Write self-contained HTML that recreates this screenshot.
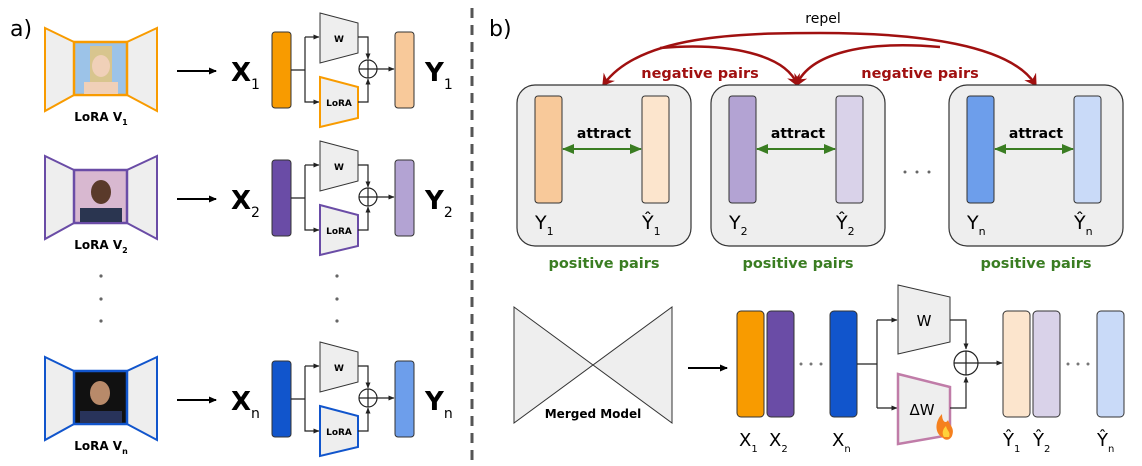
<!DOCTYPE html>
<html><head><meta charset="utf-8"><style>
html,body{margin:0;padding:0;background:#fff;}
svg{display:block;font-family:"DejaVu Sans","Liberation Sans",sans-serif;}
</style></head><body>
<svg width="1142" height="466" viewBox="0 0 1142 466" xmlns="http://www.w3.org/2000/svg">
<defs>
<marker id="ak" markerWidth="8" markerHeight="8" refX="7" refY="4" orient="auto" markerUnits="userSpaceOnUse"><path d="M0,0.5 L8,4 L0,7.5 z" fill="#000"/></marker>
<marker id="as" markerWidth="6" markerHeight="6" refX="5.5" refY="3" orient="auto" markerUnits="userSpaceOnUse"><path d="M0,0.5 L6,3 L0,5.5 z" fill="#222"/></marker>
<marker id="ag" markerWidth="12" markerHeight="12" refX="11" refY="6" orient="auto-start-reverse" markerUnits="userSpaceOnUse"><path d="M0,1 L12,6 L0,11 z" fill="#3a7d22"/></marker>
<marker id="ar" markerWidth="14" markerHeight="14" refX="9" refY="7" orient="auto-start-reverse" markerUnits="userSpaceOnUse"><path d="M0,0 L12,7 L0,14 L4,7 z" fill="#a01010"/></marker>
</defs>

<text x="10" y="36" font-size="22">a)</text>
<text x="489" y="36" font-size="22">b)</text>
<line x1="472" y1="8" x2="472" y2="460" stroke="#555" stroke-width="3" stroke-dasharray="10,7"/>

<g>
<polygon points="45,28 74,42 74,95 45,111" fill="#eee" stroke="#f89b00" stroke-width="2"/>
<polygon points="157,28 127,42 127,95 157,111" fill="#eee" stroke="#f89b00" stroke-width="2"/>
<rect x="74" y="42" width="53" height="53" fill="#9cc3e8" stroke="#f89b00" stroke-width="2.5"/>
<rect x="90" y="46" width="22" height="40" fill="#d8c58e"/>
<ellipse cx="101" cy="66" rx="9" ry="11" fill="#f0d0b8"/>
<rect x="84" y="82" width="34" height="12" fill="#f0d0b8"/>
<text x="101" y="121" font-size="12" font-weight="bold" text-anchor="middle">LoRA V<tspan font-size="8" dy="4">1</tspan></text>
<line x1="177" y1="71" x2="216" y2="71" stroke="#000" stroke-width="2" marker-end="url(#ak)"/>
<text x="231" y="81" font-size="26" font-weight="bold">X<tspan font-size="14" dy="8" font-weight="normal">1</tspan></text>
<rect x="272" y="32" width="19" height="76" rx="3" fill="#f89b00" stroke="#333" stroke-width="1"/>
<path d="M291,70 H305 V37 M305,70 V102 H319" fill="none" stroke="#222" stroke-width="1.2" marker-end="url(#as)"/>
<line x1="305" y1="37" x2="319" y2="37" stroke="#222" stroke-width="1.2" marker-end="url(#as)"/>
<polygon points="320,13 358,23 358,53 320,63" fill="#eee" stroke="#333" stroke-width="1"/>
<text x="339" y="42" font-size="9" font-weight="bold" text-anchor="middle">W</text>
<polygon points="320,77 358,87 358,118 320,127" fill="#eee" stroke="#f89b00" stroke-width="2"/>
<text x="339" y="106" font-size="9" font-weight="bold" text-anchor="middle">LoRA</text>
<path d="M358,37 H368 V59" fill="none" stroke="#222" stroke-width="1.2" marker-end="url(#as)"/>
<path d="M358,102 H368 V79" fill="none" stroke="#222" stroke-width="1.2" marker-end="url(#as)"/>
<circle cx="368" cy="69" r="9" fill="#fff" stroke="#222" stroke-width="1.2"/>
<path d="M359,69 H377 M368,60 V78" stroke="#222" stroke-width="1.2"/>
<line x1="377" y1="69" x2="394" y2="69" stroke="#222" stroke-width="1.2" marker-end="url(#as)"/>
<rect x="395" y="32" width="19" height="76" rx="3" fill="#f8c99a" stroke="#333" stroke-width="1"/>
<text x="425" y="81" font-size="26" font-weight="bold">Y<tspan font-size="14" dy="8" font-weight="normal">1</tspan></text>
</g>

<g transform="translate(0,128)">
<polygon points="45,28 74,42 74,95 45,111" fill="#eee" stroke="#6a4ca6" stroke-width="2"/>
<polygon points="157,28 127,42 127,95 157,111" fill="#eee" stroke="#6a4ca6" stroke-width="2"/>
<rect x="74" y="42" width="53" height="53" fill="#d8b8d0" stroke="#6a4ca6" stroke-width="2.5"/>
<ellipse cx="101" cy="64" rx="10" ry="12" fill="#5a3a2a"/>
<rect x="80" y="80" width="42" height="14" fill="#2a3550"/>
<text x="101" y="121" font-size="12" font-weight="bold" text-anchor="middle">LoRA V<tspan font-size="8" dy="4">2</tspan></text>
<line x1="177" y1="71" x2="216" y2="71" stroke="#000" stroke-width="2" marker-end="url(#ak)"/>
<text x="231" y="81" font-size="26" font-weight="bold">X<tspan font-size="14" dy="8" font-weight="normal">2</tspan></text>
<rect x="272" y="32" width="19" height="76" rx="3" fill="#6a4ca6" stroke="#333" stroke-width="1"/>
<path d="M291,70 H305 V37 M305,70 V102 H319" fill="none" stroke="#222" stroke-width="1.2" marker-end="url(#as)"/>
<line x1="305" y1="37" x2="319" y2="37" stroke="#222" stroke-width="1.2" marker-end="url(#as)"/>
<polygon points="320,13 358,23 358,53 320,63" fill="#eee" stroke="#333" stroke-width="1"/>
<text x="339" y="42" font-size="9" font-weight="bold" text-anchor="middle">W</text>
<polygon points="320,77 358,87 358,118 320,127" fill="#eee" stroke="#6a4ca6" stroke-width="2"/>
<text x="339" y="106" font-size="9" font-weight="bold" text-anchor="middle">LoRA</text>
<path d="M358,37 H368 V59" fill="none" stroke="#222" stroke-width="1.2" marker-end="url(#as)"/>
<path d="M358,102 H368 V79" fill="none" stroke="#222" stroke-width="1.2" marker-end="url(#as)"/>
<circle cx="368" cy="69" r="9" fill="#fff" stroke="#222" stroke-width="1.2"/>
<path d="M359,69 H377 M368,60 V78" stroke="#222" stroke-width="1.2"/>
<line x1="377" y1="69" x2="394" y2="69" stroke="#222" stroke-width="1.2" marker-end="url(#as)"/>
<rect x="395" y="32" width="19" height="76" rx="3" fill="#b3a3d3" stroke="#333" stroke-width="1"/>
<text x="425" y="81" font-size="26" font-weight="bold">Y<tspan font-size="14" dy="8" font-weight="normal">2</tspan></text>
</g>

<g transform="translate(0,329)">
<polygon points="45,28 74,42 74,95 45,111" fill="#eee" stroke="#1155cc" stroke-width="2"/>
<polygon points="157,28 127,42 127,95 157,111" fill="#eee" stroke="#1155cc" stroke-width="2"/>
<rect x="74" y="42" width="53" height="53" fill="#111" stroke="#1155cc" stroke-width="2.5"/>
<ellipse cx="100" cy="64" rx="10" ry="12" fill="#b88a6a"/>
<rect x="80" y="82" width="42" height="12" fill="#28335a"/>
<text x="101" y="121" font-size="12" font-weight="bold" text-anchor="middle">LoRA V<tspan font-size="8" dy="4">n</tspan></text>
<line x1="177" y1="71" x2="216" y2="71" stroke="#000" stroke-width="2" marker-end="url(#ak)"/>
<text x="231" y="81" font-size="26" font-weight="bold">X<tspan font-size="14" dy="8" font-weight="normal">n</tspan></text>
<rect x="272" y="32" width="19" height="76" rx="3" fill="#1155cc" stroke="#333" stroke-width="1"/>
<path d="M291,70 H305 V37 M305,70 V102 H319" fill="none" stroke="#222" stroke-width="1.2" marker-end="url(#as)"/>
<line x1="305" y1="37" x2="319" y2="37" stroke="#222" stroke-width="1.2" marker-end="url(#as)"/>
<polygon points="320,13 358,23 358,53 320,63" fill="#eee" stroke="#333" stroke-width="1"/>
<text x="339" y="42" font-size="9" font-weight="bold" text-anchor="middle">W</text>
<polygon points="320,77 358,87 358,118 320,127" fill="#eee" stroke="#1155cc" stroke-width="2"/>
<text x="339" y="106" font-size="9" font-weight="bold" text-anchor="middle">LoRA</text>
<path d="M358,37 H368 V59" fill="none" stroke="#222" stroke-width="1.2" marker-end="url(#as)"/>
<path d="M358,102 H368 V79" fill="none" stroke="#222" stroke-width="1.2" marker-end="url(#as)"/>
<circle cx="368" cy="69" r="9" fill="#fff" stroke="#222" stroke-width="1.2"/>
<path d="M359,69 H377 M368,60 V78" stroke="#222" stroke-width="1.2"/>
<line x1="377" y1="69" x2="394" y2="69" stroke="#222" stroke-width="1.2" marker-end="url(#as)"/>
<rect x="395" y="32" width="19" height="76" rx="3" fill="#6d9eeb" stroke="#333" stroke-width="1"/>
<text x="425" y="81" font-size="26" font-weight="bold">Y<tspan font-size="14" dy="8" font-weight="normal">n</tspan></text>
</g>

<g fill="#666">
<circle cx="101" cy="276" r="1.6"/><circle cx="101" cy="299" r="1.6"/><circle cx="101" cy="321" r="1.6"/>
<circle cx="337" cy="276" r="1.6"/><circle cx="337" cy="299" r="1.6"/><circle cx="337" cy="321" r="1.6"/>
</g>

<!-- b) top -->
<text x="823" y="23" font-size="14" text-anchor="middle">repel</text>
<path d="M604,84 C640,35 740,33 820,33 C920,33 1010,45 1035,84" fill="none" stroke="#a01010" stroke-width="2.5" marker-start="url(#ar)" marker-end="url(#ar)"/>
<path d="M660,48 C730,42 785,55 797,84" fill="none" stroke="#a01010" stroke-width="2.5" marker-end="url(#ar)"/>
<path d="M940,47 C860,40 810,55 797,84" fill="none" stroke="#a01010" stroke-width="2.5" marker-end="url(#ar)"/>
<text x="700" y="78" font-size="14.5" fill="#a01010" text-anchor="middle" font-weight="bold">negative pairs</text>
<text x="920" y="78" font-size="14.5" fill="#a01010" text-anchor="middle" font-weight="bold">negative pairs</text>

<g>
<rect x="517" y="85" width="174" height="161" rx="18" fill="#eee" stroke="#333" stroke-width="1.2"/>
<rect x="535" y="96" width="27" height="107" rx="3" fill="#f8c99a" stroke="#333"/>
<rect x="642" y="96" width="27" height="107" rx="3" fill="#fce5cd" stroke="#333"/>
<text x="604" y="138" font-size="14" font-weight="bold" text-anchor="middle">attract</text>
<line x1="563" y1="149" x2="641" y2="149" stroke="#3a7d22" stroke-width="2" marker-start="url(#ag)" marker-end="url(#ag)"/>
<text x="535" y="229" font-size="19">Y<tspan font-size="11" dy="6">1</tspan></text>
<text x="642" y="229" font-size="19">Ŷ<tspan font-size="11" dy="6">1</tspan></text>
<text x="604" y="268" font-size="14.5" font-weight="bold" fill="#3a7d22" text-anchor="middle">positive pairs</text>
</g>
<g>
<rect x="711" y="85" width="174" height="161" rx="18" fill="#eee" stroke="#333" stroke-width="1.2"/>
<rect x="729" y="96" width="27" height="107" rx="3" fill="#b3a3d3" stroke="#333"/>
<rect x="836" y="96" width="27" height="107" rx="3" fill="#d9d2e9" stroke="#333"/>
<text x="798" y="138" font-size="14" font-weight="bold" text-anchor="middle">attract</text>
<line x1="757" y1="149" x2="835" y2="149" stroke="#3a7d22" stroke-width="2" marker-start="url(#ag)" marker-end="url(#ag)"/>
<text x="729" y="229" font-size="19">Y<tspan font-size="11" dy="6">2</tspan></text>
<text x="836" y="229" font-size="19">Ŷ<tspan font-size="11" dy="6">2</tspan></text>
<text x="798" y="268" font-size="14.5" font-weight="bold" fill="#3a7d22" text-anchor="middle">positive pairs</text>
</g>
<g>
<rect x="949" y="85" width="174" height="161" rx="18" fill="#eee" stroke="#333" stroke-width="1.2"/>
<rect x="967" y="96" width="27" height="107" rx="3" fill="#6d9eeb" stroke="#333"/>
<rect x="1074" y="96" width="27" height="107" rx="3" fill="#c9daf8" stroke="#333"/>
<text x="1036" y="138" font-size="14" font-weight="bold" text-anchor="middle">attract</text>
<line x1="995" y1="149" x2="1073" y2="149" stroke="#3a7d22" stroke-width="2" marker-start="url(#ag)" marker-end="url(#ag)"/>
<text x="967" y="229" font-size="19">Y<tspan font-size="11" dy="6">n</tspan></text>
<text x="1074" y="229" font-size="19">Ŷ<tspan font-size="11" dy="6">n</tspan></text>
<text x="1036" y="268" font-size="14.5" font-weight="bold" fill="#3a7d22" text-anchor="middle">positive pairs</text>
</g>
<g fill="#666"><circle cx="905" cy="172" r="1.5"/><circle cx="917" cy="172" r="1.5"/><circle cx="929" cy="172" r="1.5"/></g>

<!-- b) bottom -->
<polygon points="514,307 672,423 672,307 514,423" fill="#eee" stroke="#333" stroke-width="1"/>
<text x="593" y="418" font-size="12" font-weight="bold" text-anchor="middle">Merged Model</text>
<line x1="688" y1="368" x2="727" y2="368" stroke="#000" stroke-width="2" marker-end="url(#ak)"/>
<rect x="737" y="311" width="27" height="106" rx="4" fill="#f89b00" stroke="#333"/>
<rect x="767" y="311" width="27" height="106" rx="4" fill="#6a4ca6" stroke="#333"/>
<rect x="830" y="311" width="27" height="106" rx="4" fill="#1155cc" stroke="#333"/>
<g fill="#777"><circle cx="801" cy="364" r="1.5"/><circle cx="811" cy="364" r="1.5"/><circle cx="821" cy="364" r="1.5"/>
<circle cx="1068" cy="364" r="1.5"/><circle cx="1078" cy="364" r="1.5"/><circle cx="1088" cy="364" r="1.5"/></g>
<text x="739" y="446" font-size="18">X<tspan font-size="10" dy="6">1</tspan></text>
<text x="769" y="446" font-size="18">X<tspan font-size="10" dy="6">2</tspan></text>
<text x="832" y="446" font-size="18">X<tspan font-size="10" dy="6">n</tspan></text>
<path d="M857,364 H877 V320 M877,364 V408" fill="none" stroke="#222" stroke-width="1.2"/>
<line x1="877" y1="320" x2="897" y2="320" stroke="#222" stroke-width="1.2" marker-end="url(#as)"/>
<line x1="877" y1="408" x2="897" y2="408" stroke="#222" stroke-width="1.2" marker-end="url(#as)"/>
<polygon points="898,285 950,297 950,342 898,354" fill="#eee" stroke="#333" stroke-width="1"/>
<text x="924" y="326" font-size="15" text-anchor="middle">W</text>
<polygon points="898,374 950,387 950,435 898,444" fill="#eee" stroke="#c07ca8" stroke-width="2.5"/>
<text x="922" y="415" font-size="15" text-anchor="middle">ΔW</text>
<path d="M943,438 C933,432 936,420 942,414 C942,422 946,424 948,420 C950,426 955,428 952,436 C950,440 946,441 943,438 z" fill="#f5801e"/>
<path d="M944,437 C941,432 944,428 946,426 C947,431 951,432 949,437 z" fill="#ffd23a"/>
<path d="M950,320 H966 V349" fill="none" stroke="#222" stroke-width="1.2" marker-end="url(#as)"/>
<path d="M950,408 H966 V377" fill="none" stroke="#222" stroke-width="1.2" marker-end="url(#as)"/>
<circle cx="966" cy="363" r="12" fill="#fff" stroke="#222" stroke-width="1.2"/>
<path d="M954,363 H978 M966,351 V375" stroke="#222" stroke-width="1.2"/>
<line x1="978" y1="363" x2="1002" y2="363" stroke="#222" stroke-width="1.2" marker-end="url(#as)"/>
<rect x="1003" y="311" width="27" height="106" rx="4" fill="#fce5cd" stroke="#333"/>
<rect x="1033" y="311" width="27" height="106" rx="4" fill="#d9d2e9" stroke="#333"/>
<rect x="1097" y="311" width="27" height="106" rx="4" fill="#c9daf8" stroke="#333"/>
<text x="1003" y="446" font-size="18">Ŷ<tspan font-size="10" dy="6">1</tspan></text>
<text x="1033" y="446" font-size="18">Ŷ<tspan font-size="10" dy="6">2</tspan></text>
<text x="1097" y="446" font-size="18">Ŷ<tspan font-size="10" dy="6">n</tspan></text>
</svg>
</body></html>
